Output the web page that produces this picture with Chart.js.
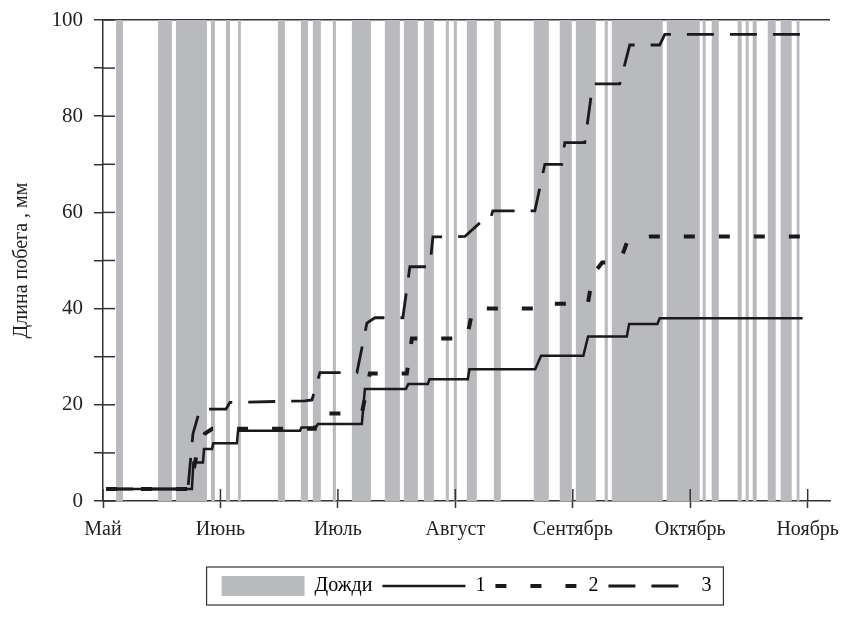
<!DOCTYPE html>
<html>
<head>
<meta charset="utf-8">
<script src="https://cdn.jsdelivr.net/npm/chart.js@4.4.1/dist/chart.umd.min.js"></script>
<style>
  body { margin: 0; background: #fff; }
  #wrap { width: 860px; height: 620px; }
</style>
</head>
<body>
<div id="wrap"><canvas id="growthChart" width="860" height="620"></canvas></div>
<script>
// x is counted in months from 1 May (0 = Май, 1 = Июнь, ...)
const monthLabels = ['Май', 'Июнь', 'Июль', 'Август', 'Сентябрь', 'Октябрь', 'Ноябрь'];
const yTicks = [0, 10, 20, 30, 40, 50, 60, 70, 80, 90, 100];

// rainy periods (start / end, months)
const rainStart = [0.111, 0.468, 0.621, 0.919, 1.047, 1.149, 1.489, 1.685, 1.787, 1.957,
  2.119, 2.400, 2.562, 2.732, 2.919, 2.987, 3.098, 3.328, 3.668, 3.889,
  4.026, 4.272, 4.332, 4.800, 5.106, 5.183, 5.404, 5.472, 5.532, 5.660, 5.770, 5.906];
const rainEnd = [0.170, 0.587, 0.885, 0.953, 1.081, 1.174, 1.549, 1.745, 1.855, 1.983,
  2.281, 2.528, 2.681, 2.817, 2.945, 3.013, 3.183, 3.387, 3.796, 3.991,
  4.196, 4.298, 4.766, 5.081, 5.132, 5.243, 5.438, 5.498, 5.566, 5.728, 5.864, 5.932];

// shoot length, mm — series 1
const s1X = [0.026, 0.757, 0.77, 0.851, 0.86, 0.928, 0.94, 1.14, 1.15, 1.677, 1.69, 1.81, 1.83,
  2.204, 2.23, 2.579, 2.60, 2.766, 2.78, 3.106, 3.12, 3.68, 3.73, 4.09, 4.13, 4.46, 4.48, 4.72, 4.74, 5.957];
const s1Y = [2.5, 2.5, 8, 8, 10.8, 10.8, 12, 12, 14.6, 14.6, 15.3, 15.3, 16,
  16, 23.3, 23.3, 24.3, 24.3, 25.3, 25.3, 27.4, 27.4, 30.2, 30.2, 34.2, 34.2, 36.8, 36.8, 38, 38];

// series 2
const s2X = [0.026, 0.74, 0.80, 0.868, 0.93, 1.804, 1.83, 2.204, 2.272, 2.587, 2.63, 3.098, 3.149,
  3.719, 3.76, 4.128, 4.17, 4.25, 4.40, 4.46, 4.50, 4.66, 5.957];
const s2Y = [2.5, 2.5, 10, 14, 15, 15, 18.2, 18.2, 26.5, 26.5, 33.8, 33.8, 40,
  40, 41, 41, 47, 49.6, 49.6, 53.7, 54.5, 55, 55];

// series 3
const s3X = [0.026, 0.723, 0.766, 0.826, 1.047, 1.081, 1.719, 1.779, 1.847, 2.162, 2.247, 2.315,
  2.553, 2.613, 2.783, 2.809, 3.081, 3.226, 3.294, 3.319, 3.677, 3.762, 3.906, 3.932,
  4.102, 4.170, 4.40, 4.485, 4.74, 4.783, 5.957];
const s3Y = [2.5, 2.5, 14, 19.1, 19.1, 20.5, 20.8, 21, 26.7, 26.7, 37, 38.1,
  38.1, 48.7, 48.7, 54.9, 55, 58.2, 58.2, 60.3, 60.3, 70, 70, 74.5,
  74.5, 86.7, 86.7, 94.8, 94.8, 97, 97];

const rainColor = '#b9babd';
const inkColor = '#1a1a1a';
const axisColor = '#333';
const serif = "'Liberation Serif', 'DejaVu Serif', serif";

const dash2 = [11, 24];
const dash3 = [27, 16];

function zip(xs, ys) {
  return xs.map((x, i) => ({ x: x, y: ys[i] }));
}

// each rain period becomes a rectangle from 0 to 100
const rainPoints = [];
rainStart.forEach((s, i) => {
  rainPoints.push({ x: s, y: 0 }, { x: s, y: 100 }, { x: rainEnd[i], y: 100 }, { x: rainEnd[i], y: 0 });
});

// inner tick marks and the frame around the legend
const extras = {
  id: 'extras',
  afterDraw(chart) {
    const { ctx, chartArea, scales } = chart;
    ctx.save();
    ctx.strokeStyle = axisColor;
    ctx.lineWidth = 1.5;
    scales.y.ticks.forEach(t => {
      const py = scales.y.getPixelForValue(t.value);
      ctx.beginPath();
      ctx.moveTo(chartArea.left, py);
      ctx.lineTo(chartArea.left + 12, py);
      ctx.stroke();
    });
    scales.x.ticks.forEach(t => {
      const px = scales.x.getPixelForValue(t.value);
      ctx.beginPath();
      ctx.moveTo(px, chartArea.bottom);
      ctx.lineTo(px, chartArea.bottom - 12);
      ctx.stroke();
    });
    const boxes = chart.legend.legendHitBoxes;
    if (boxes && boxes.length) {
      const left = Math.min(...boxes.map(b => b.left)) - 15;
      const right = Math.max(...boxes.map(b => b.left + b.width)) + 12;
      const top = Math.min(...boxes.map(b => b.top)) - 9;
      const bottom = Math.max(...boxes.map(b => b.top + b.height)) + 9;
      ctx.lineWidth = 1.2;
      ctx.strokeRect(left, top, right - left, bottom - top);
    }
    ctx.restore();
  }
};

const ctx = document.getElementById('growthChart').getContext('2d');
const growthChart = new Chart(ctx, {
  type: 'line',
  data: {
    datasets: [
      {
        label: '1',
        data: zip(s1X, s1Y),
        borderColor: inkColor,
        borderWidth: 2.5,
        pointRadius: 0,
        fill: false,
        order: 0
      },
      {
        label: '2',
        data: zip(s2X, s2Y),
        borderColor: inkColor,
        borderWidth: 4,
        borderDash: dash2,
        pointRadius: 0,
        fill: false,
        order: 1
      },
      {
        label: '3',
        data: zip(s3X, s3Y),
        borderColor: inkColor,
        borderWidth: 2.8,
        borderDash: dash3,
        pointRadius: 0,
        fill: false,
        order: 2
      },
      {
        label: 'Дожди',
        data: rainPoints,
        borderWidth: 0,
        borderColor: rainColor,
        backgroundColor: rainColor,
        pointRadius: 0,
        fill: 'origin',
        order: 10
      }
    ]
  },
  options: {
    responsive: false,
    animation: false,
    layout: { padding: { top: 20, right: 30, left: 0, bottom: 14 } },
    plugins: {
      tooltip: { enabled: false },
      legend: {
        position: 'bottom',
        fullSize: false,
        labels: {
          usePointStyle: true,
          pointStyleWidth: 83,
          boxHeight: 20,
          padding: 10,
          color: '#222',
          font: { family: serif, size: 20 },
          generateLabels: () => [
            { text: 'Дожди', fillStyle: rainColor, strokeStyle: rainColor, lineWidth: 0, pointStyle: 'rect' },
            { text: '1', strokeStyle: inkColor, lineWidth: 2.5, lineDash: [], pointStyle: 'line' },
            { text: '2', strokeStyle: inkColor, lineWidth: 4, lineDash: dash2, pointStyle: 'line' },
            { text: '3', strokeStyle: inkColor, lineWidth: 2.8, lineDash: dash3, pointStyle: 'line' }
          ]
        }
      }
    },
    scales: {
      x: {
        type: 'linear',
        min: 0,
        max: 6.19,
        z: 1,
        afterBuildTicks: scale => {
          scale.ticks = monthLabels.map((_, i) => ({ value: i }));
        },
        afterFit: scale => { scale.height = 65; },
        ticks: {
          callback: v => monthLabels[v],
          maxRotation: 0,
          autoSkip: false,
          padding: 10,
          color: '#222',
          font: { family: serif, size: 20 }
        },
        grid: {
          drawOnChartArea: false,
          drawTicks: true,
          tickLength: 7,
          tickColor: axisColor,
          tickWidth: 1.5
        },
        border: { display: true, color: axisColor, width: 1.5 }
      },
      y: {
        min: 0,
        max: 100,
        z: 1,
        afterBuildTicks: scale => {
          scale.ticks = yTicks.map(v => ({ value: v }));
        },
        afterFit: scale => {
          scale.width = 103;
          scale.paddingTop = 0;
          scale.paddingBottom = 0;
        },
        ticks: {
          callback: v => (v % 20 === 0 ? v : ''),
          padding: 11,
          color: '#222',
          font: { family: serif, size: 21 }
        },
        grid: {
          color: c => (c.tick && c.tick.value === 100 ? axisColor : 'rgba(0,0,0,0)'),
          lineWidth: 1.5,
          drawTicks: true,
          tickLength: 9,
          tickColor: axisColor,
          tickWidth: 1.5
        },
        border: { display: true, color: axisColor, width: 1.5 },
        title: {
          display: true,
          text: 'Длина побега , мм',
          color: '#222',
          font: { family: serif, size: 20 },
          padding: { top: 10, bottom: 4 }
        }
      }
    }
  },
  plugins: [extras]
});
</script>
</body>
</html>
